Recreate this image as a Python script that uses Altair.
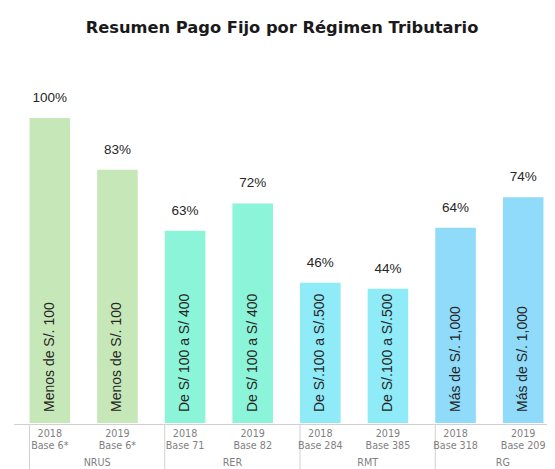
import altair as alt
import pandas as pd

# Data
categories = ["NRUS 2018", "NRUS 2019", "RER 2018", "RER 2019",
              "RMT 2018", "RMT 2019", "RG 2018", "RG 2019"]
years = ["2018", "2019", "2018", "2019", "2018", "2019", "2018", "2019"]
bases = ["Base 6*", "Base 6*", "Base 71", "Base 82",
         "Base 284", "Base 385", "Base 318", "Base 209"]
groups = ["NRUS", "NRUS", "RER", "RER", "RMT", "RMT", "RG", "RG"]
values = [1.00, 0.83, 0.63, 0.72, 0.46, 0.44, 0.64, 0.74]
ranges = ["Menos de S/. 100", "Menos de S/. 100",
          "De S/ 100 a S/ 400", "De S/ 100 a S/ 400",
          "De S/.100 a S/.500", "De S/.100 a S/.500",
          "Más de S/. 1,000", "Más de S/. 1,000"]
group_names = ["NRUS", "RER", "RMT", "RG"]
group_colors = ["#c6e8b8", "#8cf4d8", "#8eebf7", "#8fdbf9"]
title_text = "Resumen Pago Fijo por Régimen Tributario"

df = pd.DataFrame({
    "cat": categories, "year": years, "base": bases, "group": groups,
    "value": values, "range": ranges,
})
df["label"] = [f"{round(v * 100)}%" for v in values]

sep_df = pd.DataFrame({"cat": [categories[i] for i in (0, 2, 4, 6)]})
grp_df = pd.DataFrame({"cat": [categories[i] for i in (1, 3, 5, 7)],
                       "group": group_names})

W = 531
H = 305
FONT = "Liberation Sans"
AXFONT = "DejaVu Sans"
AX = "#7f7f7f"
x_scale = alt.Scale(domain=categories, range=[0, 541], paddingInner=0.4, paddingOuter=0.2)
x_enc = alt.X("cat:N", scale=x_scale, axis=None, sort=categories)
y_enc = alt.Y("value:Q", scale=alt.Scale(domain=[0, 1]), axis=None)
color_enc = alt.Color("group:N", scale=alt.Scale(domain=group_names, range=group_colors), legend=None)

base = alt.Chart(df)

bars = base.mark_bar().encode(x=x_enc, y=y_enc, color=color_enc)

value_labels = base.mark_text(fontSize=13.5, font=FONT, color="#262626",
                              baseline="alphabetic", dy=-16).encode(
    x=x_enc, y=y_enc, text="label:N")

inside_labels = base.mark_text(fontSize=14, font=FONT, color="#262626",
                               angle=270, align="left", baseline="middle").encode(
    x=x_enc, y=alt.value(H - 11), text="range:N")

year_text = base.mark_text(fontSize=9.6, font=AXFONT, color=AX).encode(
    x=x_enc, y=alt.value(H + 11), text="year:N")
base_text = base.mark_text(fontSize=9.6, font=AXFONT, color=AX).encode(
    x=x_enc, y=alt.value(H + 23), text="base:N")
group_text = alt.Chart(grp_df).mark_text(fontSize=9.6, font=AXFONT, color=AX).encode(
    x=alt.X("cat:N", scale=x_scale, axis=None, sort=categories, bandPosition=0),
    y=alt.value(H + 39.5), text="group:N")

hline = alt.Chart(pd.DataFrame({"a": [0]})).mark_rule(color="#d0d0d0", strokeWidth=1).encode(
    x=alt.value(-2), x2=alt.value(560), y=alt.value(H + 1.5))
seps = alt.Chart(sep_df).mark_rule(color="#d0d0d0", strokeWidth=1).encode(
    x=alt.X("cat:N", scale=x_scale, axis=None, sort=categories, bandPosition=0),
    y=alt.value(H + 1.5), y2=alt.value(H + 60))

title = alt.Chart(pd.DataFrame({"t": [title_text]})).mark_text(
    fontSize=16.3, font="DejaVu Sans", fontWeight="bold", color="#1a1a1a").encode(
    x=alt.value(266), y=alt.value(-90), text="t:N")

chart = alt.layer(bars, value_labels, inside_labels, hline, seps,
                  year_text, base_text, group_text, title).properties(
    width=W, height=H,
    autosize=alt.AutoSizeParams(type="none"),
    padding={"left": 8, "top": 110, "right": 0, "bottom": 46},
).configure_view(stroke=None)

chart.save("out.html", embed_options={"renderer": "svg", "actions": False})
